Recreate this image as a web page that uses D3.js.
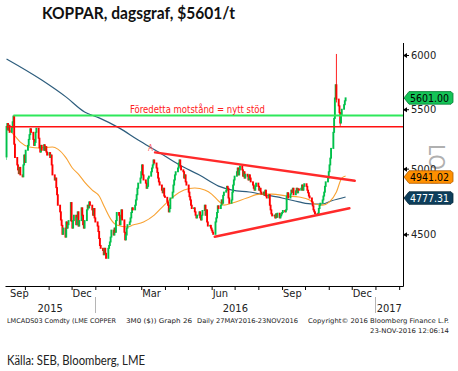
<!DOCTYPE html>
<html><head><meta charset="utf-8">
<script src="https://cdn.jsdelivr.net/npm/d3@7"></script>
<style>html,body{margin:0;padding:0;background:#fff;} svg{display:block;}</style>
</head><body>
<svg id="c" width="458" height="371"></svg>
<script>
// ---------------- DATA ----------------
const startDate = "2015-09-07";      // first trading day shown (weekdays follow)
const firstOpen = 5095;
// daily closes, one row per week (Mon..Fri)
const closes = [
 5350,5375,5320,5360,5300, 5340,5390,5440,5200,5090, 5030,4990,4960,5010,4950,
 4935,5030,5110,5050,5150, 5190,5240,5280,5330,5300, 5240,5190,5215,5300,5335,
 5250,5170,5135,5190,5150, 5195,5150,5180,5135,5110, 5130,5090,5110,5030,4950,
 4910,4925,4850,4795,4715, 4665,4605,4565,4500,4545, 4480,4590,4545,4570,4600,
 4735,4595,4545,4600,4640, 4570,4620,4665,4560,4600, 4695,4640,4570,4545,4600,
 4680,4715,4695,4740,4715, 4680,4640,4690,4620,4590, 4560,4520,4470,4420,4400,
 4385,4355,4400,4365,4330, 4400,4420,4445,4480,4530, 4495,4545,4515,4600,4660,
 4640,4570,4620,4680,4605, 4515,4460,4495,4545,4570, 4590,4620,4660,4695,4680,
 4715,4755,4795,4845,4885, 4925,4975,5030,4950,4910, 4885,4845,4860,4925,4940,
 4975,5005,5030,5070,5045, 5005,4970,4925,4895,4870, 4830,4810,4845,4785,4775,
 4740,4715,4665,4690,4770, 4815,4870,4910,4950,4975, 5005,5045,5070,5020,4990,
 4975,4925,4950,4895,4870, 4815,4780,4755,4715,4690, 4695,4665,4640,4620,4640,
 4665,4620,4605,4640,4675, 4715,4640,4680,4590,4560, 4565,4545,4530,4515,4500,
 4590,4620,4660,4710,4690, 4715,4755,4730,4790,4815, 4830,4860,4845,4770,4730,
 4755,4815,4870,4910,4940, 4975,5005,4950,4990,5020, 4990,4940,4975,4925,4955,
 4940,4910,4950,4925,4895, 4870,4845,4830,4860,4885, 4860,4830,4845,4815,4800,
 4815,4790,4830,4785,4770, 4795,4715,4680,4650,4635, 4640,4620,4650,4625,4655,
 4620,4635,4650,4660,4675, 4665,4680,4785,4810,4770, 4800,4830,4815,4845,4795,
 4825,4845,4810,4840,4830, 4845,4870,4830,4860,4880, 4860,4830,4810,4785,4770,
 4740,4710,4680,4665,4650, 4640,4655,4690,4715,4730, 4755,4785,4815,4860,4895,
 4925,4975,5030,5085,5165, 5300,5420,5600,5720,5590, 5530,5470,5380,5450,5500,
 5540,5575,5601
];
// notable intraday extremes: [date, high, low]
const wicks = [["2015-09-07",5353,5070],["2016-11-11",6010,5560],["2016-11-16",5470,5355]];
// long moving average (blue)
const maLongDates  = ["2015-09-07","2015-10-23","2015-11-24","2015-12-18","2016-01-06","2016-02-01","2016-02-26","2016-03-24","2016-04-20","2016-05-16","2016-06-10","2016-06-28","2016-07-20","2016-08-11","2016-09-01","2016-09-23","2016-10-11","2016-10-24","2016-11-04","2016-11-23"];
const maLongValues = [5962,5764,5608,5476,5424,5338,5235,5133,5029,4949,4862,4831,4816,4793,4770,4740,4724,4724,4747,4777.31];
// short moving average (orange)
const maShortDates  = ["2015-09-07","2015-09-17","2015-09-25","2015-10-07","2015-10-20","2015-11-06","2015-11-13","2015-11-24","2015-12-02","2015-12-11","2015-12-18","2015-12-28","2016-01-06","2016-01-13","2016-01-22","2016-01-29","2016-02-12","2016-02-19","2016-03-04","2016-03-18","2016-03-31","2016-04-13","2016-04-26","2016-05-10","2016-05-23","2016-06-01","2016-06-10","2016-06-17","2016-06-28","2016-07-17","2016-08-03","2016-08-19","2016-09-07","2016-09-23","2016-10-07","2016-10-14","2016-10-24","2016-11-02","2016-11-11","2016-11-18","2016-11-23"];
const maShortValues = [5345,5277,5218,5176,5168,5176,5159,5085,5005,4949,4893,4831,4785,4701,4604,4567,4553,4567,4590,4641,4716,4785,4831,4847,4831,4800,4747,4716,4732,4770,4800,4800,4785,4777,4755,4724,4716,4740,4816,4925,4941.02];
// horizontal levels
const levelNames  = ["support","resistance"];
const levelStarts = ["2015-09-16","2015-09-07"];
const levelValues = [5445,5348];
// triangle trend lines: [startDate, startValue, endDate, endValue]
const trendLines = [["2016-03-19",5132,"2016-12-05",4904],["2016-06-05",4482,"2016-11-28",4692]];
const yTicks = [4500,5000,5500,6000];
const lastLabels = [5601.00, 4941.02, 4777.31];
const title = "KOPPAR, dagsgraf, $5601/t";
const note = "Föredetta motstånd = nytt stöd";
const source = "Källa: SEB, Bloomberg, LME";

// ---------------- CHART ----------------
const parse = d3.timeParse("%Y-%m-%d");
const svg = d3.select("#c");
const cond = "'DejaVu Sans Condensed','DejaVu Sans',sans-serif";

const x = d3.scaleTime().domain([new Date(2015,8,5), new Date(2017,1,6)]).range([5,403]);
const y = d3.scaleLog().domain([4500,6000]).range([234.3,55]);
const [x0,x1] = x.range();

// trading dates
const dates = [];
let d = parse(startDate);
while (dates.length < closes.length) {
  if (d.getDay() !== 0 && d.getDay() !== 6) dates.push(new Date(d));
  d = d3.timeDay.offset(d,1);
}
const bars = closes.map((c,i)=>({date:dates[i], open: i===0?firstOpen:closes[i-1], close:c}));

// title
svg.append("text").attr("x",42).attr("y",19).text(title)
  .attr("font-family","Lato,'Open Sans',sans-serif").attr("font-weight","bold")
  .attr("font-size",17).attr("fill","#111")
  .attr("textLength",193).attr("lengthAdjust","spacingAndGlyphs");

// frame
svg.append("line").attr("x1",x1+0.5).attr("x2",x1+0.5).attr("y1",43).attr("y2",286.5)
  .attr("stroke","#000").attr("stroke-width",1);

// bottom axis
const xAxis = d3.axisBottom(x).ticks(d3.timeMonth.every(1)).tickSize(4).tickSizeOuter(0).tickFormat("");
const gx = svg.append("g").attr("transform","translate(0,286)").call(xAxis);
gx.select(".domain").attr("stroke","#000");
gx.selectAll(".tick line").attr("stroke","#000");

const months = d3.timeMonth.range(d3.timeMonth.floor(x.domain()[0]), x.domain()[1]).filter(m=>m.getMonth()%3===2);
svg.append("g").selectAll("text").data(months).join("text")
  .attr("x", m => x(m) < x0 ? x0+5 : x(m)+1)
  .attr("y",297).text(d3.timeFormat("%b"))
  .attr("font-family",cond).attr("font-size",11).attr("fill","#222");

const years = d3.timeYear.range(d3.timeYear.floor(x.domain()[0]), x.domain()[1]);
svg.append("g").selectAll("line").data(years.filter(v=>x(v)>x0)).join("line")
  .attr("x1",v=>Math.round(x(v))+0.5).attr("x2",v=>Math.round(x(v))+0.5)
  .attr("y1",297).attr("y2",313).attr("stroke","#b5b5b5");
svg.append("g").selectAll("text").data(years).join("text")
  .attr("x", v => (Math.max(x0,x(v)) + Math.min(x1, x(d3.timeYear.offset(v,1))))/2)
  .attr("y",312).attr("text-anchor","middle").text(d3.timeFormat("%Y"))
  .attr("font-family",cond).attr("font-size",11).attr("fill","#222");

// grey rotated marker text
svg.append("text").attr("transform","translate(429,144) rotate(90)").text("LOG")
  .attr("font-family",cond).attr("font-size",22).attr("fill","#b0b0b0");

// right axis
const yAxis = d3.axisRight(y).tickValues(yTicks).tickSize(6).tickPadding(2).tickFormat(d3.format("d"));
const gy = svg.append("g").attr("transform",`translate(${x1},0)`).call(yAxis);
gy.select(".domain").remove();
gy.selectAll(".tick line").attr("stroke","#000");
gy.selectAll(".tick").append("path").attr("d","M0,0L4,-2.5L4,2.5Z").attr("fill","#000");
gy.selectAll(".tick text").attr("font-family",cond).attr("font-size",11).attr("fill","#222");

// moving averages
const line = d3.line().x(p=>x(p[0])).y(p=>y(p[1])).curve(d3.curveMonotoneX);
svg.append("path").datum(maLongDates.map((t,i)=>[parse(t),maLongValues[i]]))
  .attr("d",line).attr("fill","none").attr("stroke","#2d5d7d").attr("stroke-width",1.2);
svg.append("path").datum(maShortDates.map((t,i)=>[parse(t),maShortValues[i]]))
  .attr("d",line).attr("fill","none").attr("stroke","#f8a232").attr("stroke-width",1.1);

// wicks
svg.append("g").selectAll("line").data(wicks).join("line")
  .attr("x1",w=>x(parse(w[0]))).attr("x2",w=>x(parse(w[0])))
  .attr("y1",w=>y(w[1])).attr("y2",w=>y(w[2]))
  .attr("stroke",w=>{const b=bars.find(q=>+q.date===+parse(w[0])); return b && b.close>=b.open?"#7fe09f":"#ff2020";})
  .attr("stroke-width",1);

// candles
svg.append("g").selectAll("rect").data(bars).join("rect")
  .attr("x",b=>x(b.date)-0.95).attr("width",1.9)
  .attr("y",b=>y(Math.max(b.open,b.close))-0.5)
  .attr("height",b=>Math.max(1.5,Math.abs(y(b.open)-y(b.close))+1))
  .attr("fill",b=>b.close>=b.open?"#00c04a":"#ff0000");

// levels
svg.append("g").selectAll("line").data(levelValues).join("line")
  .attr("x1",(v,i)=>x(parse(levelStarts[i]))).attr("x2",x1)
  .attr("y1",v=>y(v)).attr("y2",v=>y(v))
  .attr("stroke",(v,i)=>levelNames[i]==="support"?"#2ee85a":"#ff1010")
  .attr("stroke-width",(v,i)=>levelNames[i]==="support"?2:1.6);

// triangle
svg.append("g").selectAll("line").data(trendLines).join("line")
  .attr("x1",t=>x(parse(t[0]))).attr("y1",t=>y(t[1]))
  .attr("x2",t=>x(parse(t[2]))).attr("y2",t=>y(t[3]))
  .attr("stroke","#ff2a2a").attr("stroke-width",2.4).attr("stroke-linecap","round");
svg.append("text").attr("x",x(parse(trendLines[0][0]))-7).attr("y",y(trendLines[0][1])-1.5)
  .text("A").attr("font-family",cond).attr("font-size",8).attr("fill","#ff5a5a");

// annotation
svg.append("text").attr("x",130).attr("y",112.5).text(note)
  .attr("font-family",cond).attr("font-size",10).attr("fill","#ff2020")
  .attr("textLength",135).attr("lengthAdjust","spacingAndGlyphs");

// last-value labels
const boxStyles = [{fill:"#14c457",stroke:"#0a7a35",text:"#000",dy:0},{fill:"#ff9000",stroke:"#b05a00",text:"#000",dy:1},{fill:"#0e3f5c",stroke:"#072838",text:"#fff",dy:1}];
const lab = svg.append("g").selectAll("g").data(lastLabels).join("g")
  .attr("transform",(v,i)=>`translate(${x1+1},${y(v)+boxStyles[i].dy})`);
lab.append("path").attr("d","M0,0L5,-6.3L47,-6.3L49,-4.3L49,4.3L47,6.3L5,6.3Z")
  .attr("fill",(v,i)=>boxStyles[i].fill).attr("stroke",(v,i)=>boxStyles[i].stroke).attr("stroke-width",0.8);
lab.append("text").attr("x",6).attr("y",4).text(d3.format(".2f"))
  .attr("font-family",cond).attr("font-size",10.5).attr("fill",(v,i)=>boxStyles[i].text);

// footer
const foot = [
  ["LMCADS03 Comdty (LME COPPER",7,323,109],
  ["3M0 ($)) Graph 26",126,323,66],
  ["Daily 27MAY2016-23NOV2016",197,323,101],
  ["Copyright\u00A9 2016 Bloomberg Finance L.P.",308,323,141],
  ["23-NOV-2016 12:06:14",370,333,79]
];
svg.append("g").selectAll("text").data(foot).join("text")
  .attr("x",f=>f[1]).attr("y",f=>f[2]).text(f=>f[0])
  .attr("textLength",f=>f[3]).attr("lengthAdjust","spacingAndGlyphs")
  .attr("font-family",cond).attr("font-size",6.5).attr("fill","#222");

svg.append("text").attr("x",7).attr("y",365).text(source)
  .attr("font-family","Lato,'Open Sans',sans-serif").attr("font-size",12.5).attr("fill","#222")
  .attr("textLength",138).attr("lengthAdjust","spacingAndGlyphs");
</script>
</body></html>
